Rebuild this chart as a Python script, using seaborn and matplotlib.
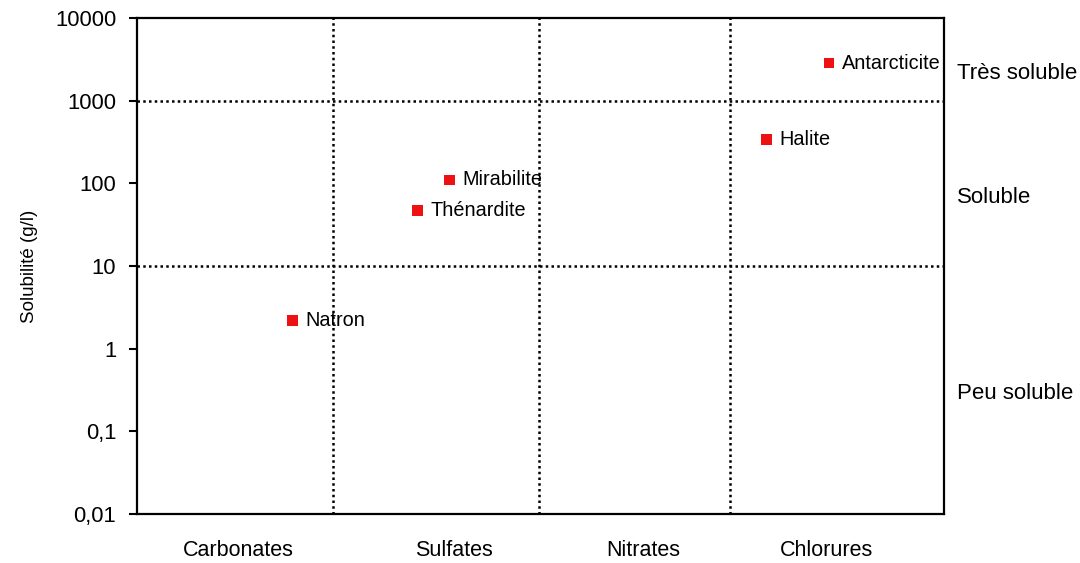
import seaborn as sns
import matplotlib.pyplot as plt
import pandas as pd
from matplotlib.ticker import FixedLocator, FixedFormatter

# ---- Data

minerals = ["Natron", "Thénardite", "Mirabilite", "Halite", "Antarcticite"]
x_pos = [0.77, 1.39, 1.55, 3.12, 3.43]
solubility = [2.2, 47, 110, 340, 2850]

categories = ["Carbonates", "Sulfates", "Nitrates", "Chlorures"]
category_pos = [0.50, 1.57, 2.51, 3.42]
separators = [0.97, 1.99, 2.94]

y_ticks = [0.01, 0.1, 1, 10, 100, 1000, 10000]
y_labels = ["0,01", "0,1", "1", "10", "100", "1000", "10000"]
class_bounds = [10, 1000]
classes = ["Peu soluble", "Soluble", "Très soluble"]
class_y = [0.29, 68, 2150]

sns.set_style("white")
plt.rcParams["font.family"] = ["Liberation Sans", "DejaVu Sans"]
plt.rcParams["text.color"] = "black"
plt.rcParams["xtick.color"] = "black"
plt.rcParams["ytick.color"] = "black"
plt.rcParams["axes.labelcolor"] = "black"

df = pd.DataFrame({"mineral": minerals, "x": x_pos, "sol": solubility})

fig = plt.figure(figsize=(10.8, 5.63), dpi=100)
ax = fig.add_axes([0.127, 0.087, 0.747, 0.881])

# ---- Class limits and family separators
for b in class_bounds:
    ax.axhline(b, color="black", linestyle=(0, (1, 1.3)), linewidth=1.8, zorder=1)
for s in separators:
    ax.axvline(s, color="black", linestyle=(0, (1, 1.3)), linewidth=1.8, zorder=1)

sns.scatterplot(data=df, x="x", y="sol", marker="s", s=60, color="#ee1111",
                edgecolor="none", ax=ax, zorder=3)

for _, row in df.iterrows():
    ax.annotate(row["mineral"], (row["x"], row["sol"]), xytext=(9, 0),
                textcoords="offset points", va="center", ha="left", fontsize=14.3)

ax.set_yscale("log")
ax.set_ylim(0.01, 10000)
ax.set_xlim(0, 4)
ax.yaxis.set_major_locator(FixedLocator(y_ticks))
ax.yaxis.set_major_formatter(FixedFormatter(y_labels))
ax.yaxis.set_minor_locator(FixedLocator([]))
ax.tick_params(axis="y", left=True, length=6, width=1.5, pad=9, labelsize=15.8)

ax.set_xticks(category_pos)
ax.set_xticklabels(categories)
ax.tick_params(axis="x", bottom=False, length=0, pad=19, labelsize=15.5)

ax.set_xlabel("")
ax.set_ylabel("Solubilité (g/l)", fontsize=13.5, labelpad=12)

for sp in ax.spines.values():
    sp.set_color("black")
    sp.set_linewidth(1.6)

for label, yv in zip(classes, class_y):
    ax.text(1.016, yv, label, transform=ax.get_yaxis_transform(),
            va="center", ha="left", fontsize=16)

fig.savefig("out.png", dpi=100)
